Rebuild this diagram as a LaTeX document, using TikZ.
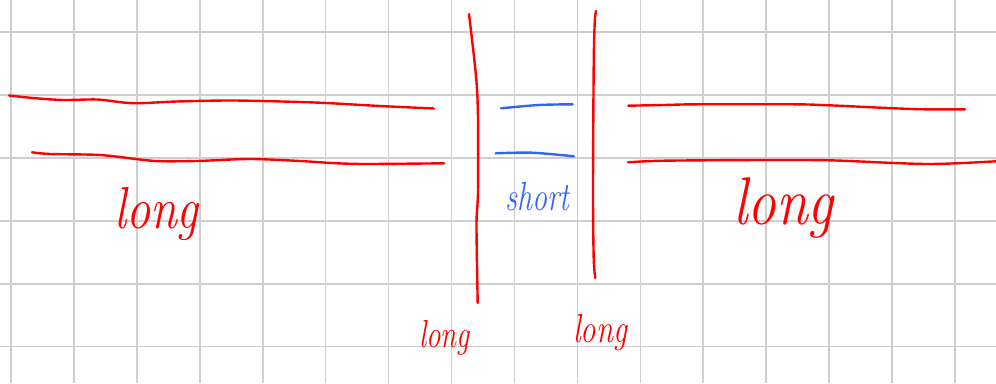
\documentclass[tikz,border=0pt]{standalone}
\usepackage{tikz}
\definecolor{gridgray}{RGB}{206,206,206}
\definecolor{penred}{RGB}{255,0,0}
\definecolor{penblue}{RGB}{51,102,240}
\tikzset{
  gridline/.style={draw=gridgray, line width=1.6pt},
  redstroke/.style={draw=penred, line width=2.4pt, line cap=round, line join=round},
  bluestroke/.style={draw=penblue, line width=2.4pt, line cap=round, line join=round},
  hw/.style={anchor=base west, inner sep=0pt, outer sep=0pt, yscale=1.35},
}
\begin{document}
\begin{tikzpicture}[x=1pt,y=-1pt]
\useasboundingbox (0,0) rectangle (996,383);
\fill[white] (0,0) rectangle (996,383);
% grid
\foreach \k in {0,...,15} {\draw[gridline] ({11+62.93*\k},0) -- ({11+62.93*\k},383);}
\foreach \k in {0,...,5} {\draw[gridline] (0,{32+62.93*\k}) -- (996,{32+62.93*\k});}
% left long lines
\draw[redstroke] plot[smooth, tension=0.5] coordinates {(9,95.5) (33,98) (63,100) (97,99.5) (123,102.5) (140,103.2) (177,101.5) (233,100.5) (300,102) (332,103.3) (380,106) (434,108.5)};
\draw[redstroke] plot[smooth, tension=0.5] coordinates {(32,152.3) (50,154) (100,155) (140,159.5) (160,161.2) (197,161) (250,159) (300,161) (332,163) (365,164) (444,163.3)};
% vertical long lines
\draw[redstroke] plot[smooth, tension=0.5] coordinates {(469,14) (476,76) (478,117) (478,192) (476.5,225) (477.7,303)};
\draw[redstroke] plot[smooth, tension=0.5] coordinates {(596,11) (594.7,23) (593.7,66) (593,192) (593.7,258) (595.3,278)};
% short blue lines
\draw[bluestroke] plot[smooth, tension=0.5] coordinates {(501,108.3) (538.7,105) (572.7,104.3)};
\draw[bluestroke] plot[smooth, tension=0.5] coordinates {(495.7,153.3) (532,152.7) (574,156.3)};
% right long lines
\draw[redstroke] plot[smooth, tension=0.5] coordinates {(628.3,105.7) (664,105) (697,104.3) (794,104.3) (829,105.3) (894,108.3) (924,109.3) (965,109.3)};
\draw[redstroke] plot[smooth, tension=0.5] coordinates {(628,162.3) (664,160.7) (764,160) (829,160.3) (894,163) (927,164) (957,163.3) (996,161.3)};
% labels
\node[hw, text=penred, font=\fontsize{44}{44}\selectfont\itshape, xscale=1.1] (lleft) at (114,228) {long};
\node[hw, text=penred, font=\fontsize{50}{50}\selectfont\itshape, xscale=1.15] (lright) at (733,224) {long};
\node[hw, text=penred, font=\fontsize{29}{29}\selectfont\itshape, xscale=1.0] (lbl) at (419,347) {long};
\node[hw, text=penred, font=\fontsize{30}{30}\selectfont\itshape, xscale=1.03] (lbr) at (573,342) {long};
\node[hw, text=penblue, font=\fontsize{30}{30}\selectfont\itshape] (sh) at (505,210) {short};
\end{tikzpicture}
\end{document}
